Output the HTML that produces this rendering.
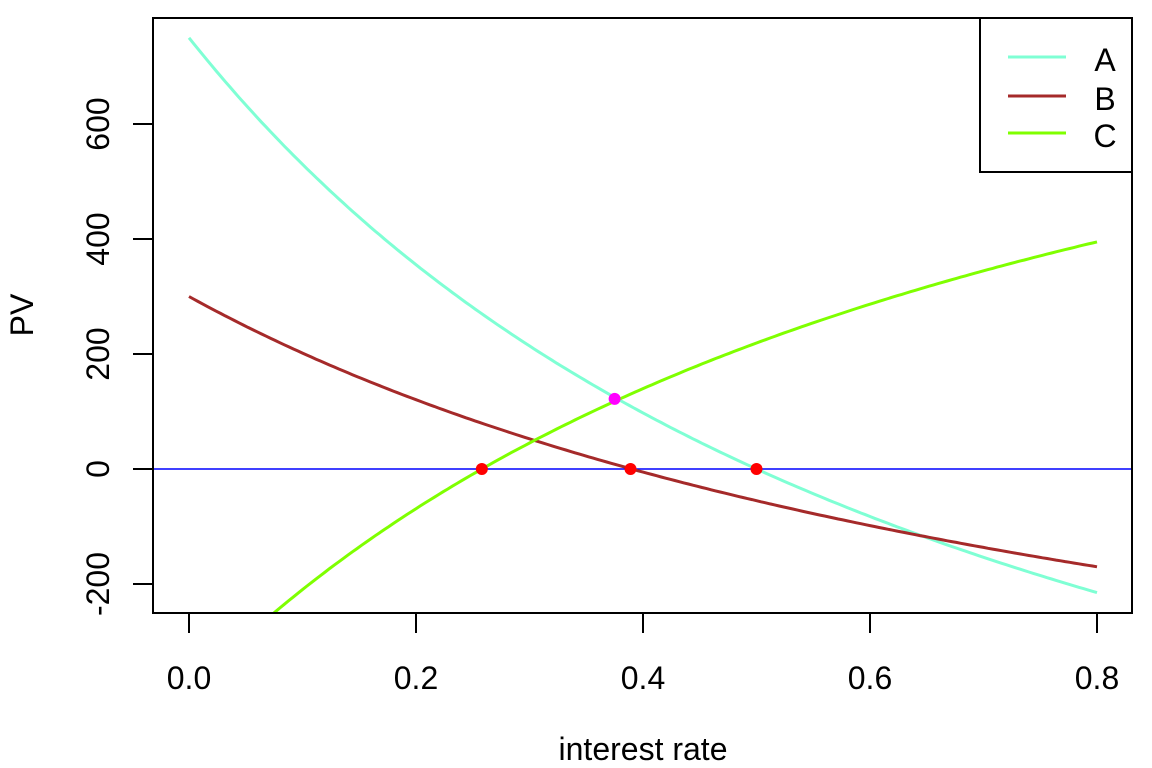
<!DOCTYPE html>
<html><head><meta charset="utf-8"><style>
body{margin:0;background:#fff}
svg{display:block}
</style></head><body>
<svg id="s" width="1152" height="768" xmlns="http://www.w3.org/2000/svg" font-family="Liberation Sans, Arial, sans-serif" font-size="32">
<defs><clipPath id="c"><rect x="153" y="18" width="979" height="595"/></clipPath></defs>
<line x1="153" y1="469" x2="1132" y2="469" stroke="#0000ff" stroke-width="1.5"/>
<g id="curves" clip-path="url(#c)" fill="none" stroke-width="3"></g>
<g id="pts"></g>
<rect x="153" y="18" width="979" height="595" fill="none" stroke="#000" stroke-width="2"/>
<g stroke="#000" stroke-width="2">
<line x1="189" y1="613" x2="189" y2="633"/><line x1="416" y1="613" x2="416" y2="633"/><line x1="643" y1="613" x2="643" y2="633"/><line x1="870" y1="613" x2="870" y2="633"/><line x1="1097" y1="613" x2="1097" y2="633"/>
<line x1="133" y1="584" x2="153" y2="584"/><line x1="133" y1="469" x2="153" y2="469"/><line x1="133" y1="354" x2="153" y2="354"/><line x1="133" y1="239" x2="153" y2="239"/><line x1="133" y1="124" x2="153" y2="124"/>
</g>
<g text-anchor="middle" fill="#000">
<text x="189" y="689">0.0</text><text x="416" y="689">0.2</text><text x="643" y="689">0.4</text><text x="870" y="689">0.6</text><text x="1097" y="689">0.8</text>
<text transform="translate(109,584) rotate(-90)">-200</text>
<text transform="translate(109,469) rotate(-90)">0</text>
<text transform="translate(109,354) rotate(-90)">200</text>
<text transform="translate(109,239) rotate(-90)">400</text>
<text transform="translate(109,124) rotate(-90)">600</text>
<text x="643" y="760">interest rate</text>
<text transform="translate(33,315) rotate(-90)">PV</text>
</g>
<rect x="980" y="18" width="152" height="154" fill="#fff" stroke="#000" stroke-width="2"/>
<line x1="1008" y1="57" x2="1066" y2="57" stroke="#7FFFD4" stroke-width="3"/>
<line x1="1008" y1="96" x2="1066" y2="96" stroke="#A52A2A" stroke-width="3"/>
<line x1="1008" y1="133" x2="1066" y2="133" stroke="#7FFF00" stroke-width="3"/>
<g text-anchor="middle"><text x="1105" y="71">A</text><text x="1105" y="110">B</text><text x="1105" y="147">C</text></g>
</svg>
<script>
var X=function(r){return 189+1135*r},Y=function(v){return 469-0.575*v};
var f=[[-1027.5,1069,708.5,"#7FFFD4"],[-718.3,947.6,70.7,"#A52A2A"],[1079.1,-938.6,-527,"#7FFF00"]];
var g=document.getElementById("curves"),ns="http://www.w3.org/2000/svg";
f.forEach(function(p){var d="";for(var i=0;i<=200;i++){var r=0.8*i/200,u=1/(1+r),v=p[0]+p[1]*u+p[2]*u*u;d+=(i?"L":"M")+X(r).toFixed(1)+","+Y(v).toFixed(1);}
var e=document.createElementNS(ns,"path");e.setAttribute("d",d);e.setAttribute("stroke",p[3]);g.appendChild(e);});
var P=document.getElementById("pts");
[[0.258,0,"#ff0000"],[0.389,0,"#ff0000"],[0.5,0,"#ff0000"],[0.375,122,"#ff00ff"]].forEach(function(q){var c=document.createElementNS(ns,"circle");c.setAttribute("cx",X(q[0]));c.setAttribute("cy",Y(q[1]));c.setAttribute("r",6);c.setAttribute("fill",q[2]);P.appendChild(c);});
</script>
</body></html>
